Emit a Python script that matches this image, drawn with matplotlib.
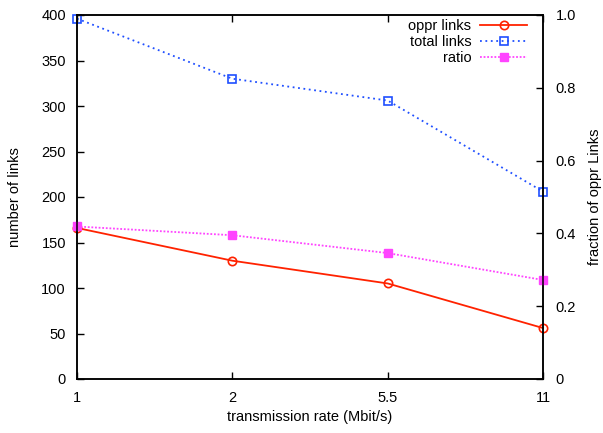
import matplotlib.pyplot as plt
import numpy as np

plt.rcParams['font.family'] = ['Liberation Sans', 'DejaVu Sans']
plt.rcParams['font.size'] = 10.5

rates = ['1', '2', '5.5', '11']
oppr_links = [166, 130, 105, 56]
total_links = [396, 330, 306, 206]
ratio = [0.419, 0.395, 0.346, 0.272]

x = np.arange(len(rates))

fig = plt.figure(figsize=(6.03, 4.33), dpi=100)
ax = fig.add_axes([77 / 603, 1 - 379 / 433, 466 / 603, 364 / 433])
ax2 = ax.twinx()

l1, = ax.plot(x, oppr_links, color='#ff2200', lw=1.3, marker='o', ms=6,
              mfc='none', mew=1.2, label='oppr links', clip_on=False)
l2, = ax.plot(x, total_links, color='#1f4fff', lw=1.3, ls=(0, (1, 2)),
              marker='s', ms=6, mfc='none', mew=1.2, label='total links',
              clip_on=False)
l3, = ax2.plot(x, ratio, color='#ff44ff', lw=1.3, ls=(0, (1, 1)),
               marker='s', ms=6, mec='#ff44ff', label='ratio', clip_on=False)

ax.set_xlim(0, len(rates) - 1)
ax.set_ylim(0, 400)
ax.set_yticks(np.arange(0, 401, 50))
ax.set_xticks(x)
ax.set_xticklabels(rates)
ax2.set_ylim(0, 1.0)
ax2.set_yticks([0, 0.2, 0.4, 0.6, 0.8, 1.0])
ax2.set_yticklabels(['0', '0.2', '0.4', '0.6', '0.8', '1.0'])

ax.tick_params(axis='y', direction='in', length=5, width=1, pad=8)
ax.tick_params(axis='x', direction='in', length=5, width=1, top=True, pad=9)
ax2.tick_params(direction='in', length=5, width=1, pad=9)
for a in (ax, ax2):
    for s in a.spines.values():
        s.set_linewidth(1.1)

ax.set_xlabel('transmission rate (Mbit/s)')
ax.set_ylabel('number of links')
ax2.set_ylabel('fraction of oppr Links')
ax.xaxis.set_label_coords(0.5, -0.085)
ax.yaxis.set_label_coords(-0.118, 0.5)
ax2.yaxis.set_label_coords(1.097, 0.5)

ax.legend(handles=[l1, l2, l3], loc='upper right', markerfirst=False,
          frameon=False, handlelength=3.2, labelspacing=0.15,
          bbox_to_anchor=(0.978, 1.005), borderaxespad=0.0,
          handletextpad=0.6)

fig.savefig('out.png', dpi=100)
